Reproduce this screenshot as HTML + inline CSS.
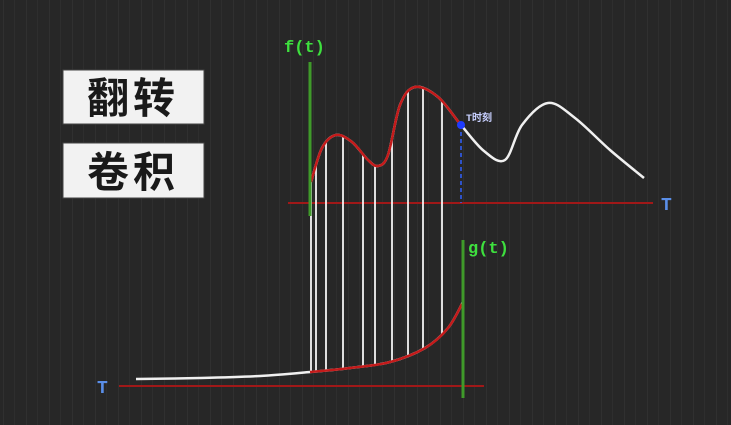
<!DOCTYPE html>
<html><head><meta charset="utf-8"><style>
body{margin:0;width:731px;height:425px;overflow:hidden;background:#272727;}
svg{display:block}
.lbl{font-family:"Liberation Mono","DejaVu Sans Mono",monospace;font-weight:bold}
</style></head><body>
<svg id="c" width="731" height="425">
<defs><pattern id="streak" width="23" height="425" patternUnits="userSpaceOnUse">
<rect width="23" height="425" fill="#272727"/><rect x="3" width="1" height="425" fill="#303030"/><rect x="14" width="1" height="425" fill="#2e2e2e"/></pattern></defs>
<rect width="731" height="425" fill="url(#streak)"/>
<g><rect x="63" y="70" width="141" height="54" fill="#f2f2f2" stroke="#444"/>
<text x="133" y="113" text-anchor="middle" font-size="42" font-weight="bold" fill="#1a1a1a" font-family="'Liberation Sans','Noto Sans CJK SC',sans-serif" letter-spacing="4">翻转</text></g>
<g><rect x="63" y="143" width="141" height="55" fill="#f2f2f2" stroke="#444"/>
<text x="133" y="187" text-anchor="middle" font-size="42" font-weight="bold" fill="#1a1a1a" font-family="'Liberation Sans','Noto Sans CJK SC',sans-serif" letter-spacing="4">卷积</text></g>
<g id="marks"></g>
</svg>
<script>
const fPoints=[[311,182],[322,148],[336,135],[352,142],[368,160],[378,166],[388,155],[400,105],[415,87],[438,97],[461,125],[484,151],[505,160],[522,125],[548,103],[575,118],[610,150],[644,178]];
const gPoints=[[136,379],[200,378],[260,376],[310,372],[350,368],[390,362],[425,348],[448,328],[463,302]];
const stripX=[311,316,326,343,363,375,392,408,423,442];
const tMomentX=461;
const labels=["f(t)","g(t)","T","T","T时刻"];
const NS="http://www.w3.org/2000/svg";
const g=document.getElementById('marks');
function mk(t,a){const e=document.createElementNS(NS,t);for(const k in a)e.setAttribute(k,a[k]);g.appendChild(e);return e;}
function smooth(p){let d=`M${p[0][0]},${p[0][1]}`;for(let i=0;i<p.length-1;i++){const p0=p[i-1]||p[i],p1=p[i],p2=p[i+1],p3=p[i+2]||p2;
d+=` C${p1[0]+(p2[0]-p0[0])/6},${p1[1]+(p2[1]-p0[1])/6} ${p2[0]-(p3[0]-p1[0])/6},${p2[1]-(p3[1]-p1[1])/6} ${p2[0]},${p2[1]}`;}return d;}
function yAt(path,x){const L=path.getTotalLength();let lo=0,hi=L;for(let i=0;i<40;i++){const m=(lo+hi)/2;if(path.getPointAtLength(m).x<x)lo=m;else hi=m;}return path.getPointAtLength(lo).y;}
let e=mk('line',{x1:288,y1:203,x2:653,y2:203,stroke:'#a01818','stroke-width':2});

e=mk('line',{x1:119,y1:386,x2:484,y2:386,stroke:'#a01818','stroke-width':2});

const fAll=mk('path',{d:smooth(fPoints),fill:'none',stroke:'#f0f0f0','stroke-width':2.5});

const gAll=mk('path',{d:smooth(gPoints),fill:'none',stroke:'#f0f0f0','stroke-width':2.5});

stripX.forEach(x=>{const l=mk('line',{x1:x,y1:yAt(fAll,x),x2:x,y2:yAt(gAll,x),stroke:'#f4f4f4','stroke-width':1.8});
});
function clipPts(a,b,path){const out=[];for(let x=a;x<=b;x+=2)out.push([x,yAt(path,x)]);return out;}
const fr=clipPts(311,tMomentX,fAll),gr=clipPts(310,463,gAll);
e=mk('polyline',{points:fr.map(p=>p.join(',')).join(' '),fill:'none',stroke:'#c41a1a','stroke-width':2.5});

e=mk('polyline',{points:gr.map(p=>p.join(',')).join(' '),fill:'none',stroke:'#c41a1a','stroke-width':2.5});

e=mk('line',{x1:310,y1:62,x2:310,y2:216,stroke:'#3f9a2a','stroke-width':3});

e=mk('line',{x1:463,y1:240,x2:463,y2:398,stroke:'#3f9a2a','stroke-width':3});

const ty=yAt(fAll,tMomentX);
e=mk('line',{x1:tMomentX,y1:ty,x2:tMomentX,y2:203,stroke:'#3060ff','stroke-width':1.5,'stroke-dasharray':'4,3'});

e=mk('circle',{cx:tMomentX,cy:ty,r:4,fill:'#1f3cff'});

function txt(s,x,y,fill,size,name){const t=mk('text',{x:x,y:y,fill:fill,'font-size':size,class:'lbl','font-family':"'Liberation Mono','Noto Sans CJK SC',monospace"});t.textContent=s;
}
txt(labels[0],284,52,'#3ee03e',17,'f-label');
txt(labels[1],468,253,'#3ee03e',17,'g-label');
txt(labels[2],661,210,'#5a8ee8',18,'upper-t-label');
txt(labels[3],97,393,'#5a8ee8',18,'lower-t-label');
txt(labels[4],466,121,'#c8d0ff',10,'t-moment-label');
</script>
</body></html>
